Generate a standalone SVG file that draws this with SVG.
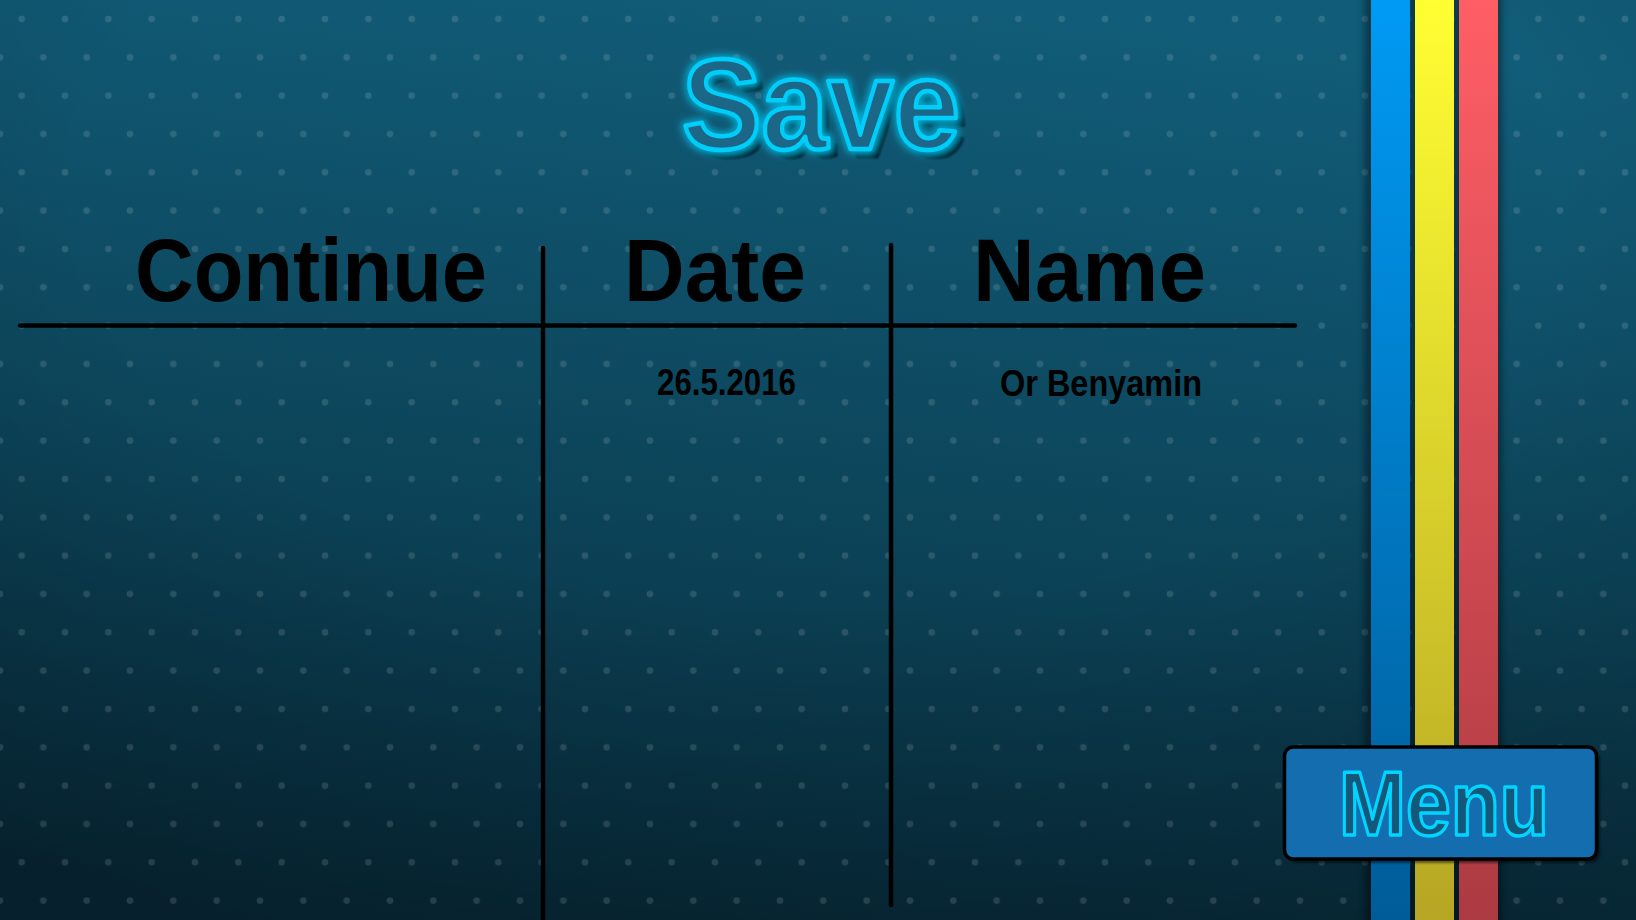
<svg xmlns="http://www.w3.org/2000/svg" width="1636" height="920" viewBox="0 0 1636 920">
  <defs>
    <linearGradient id="bg" x1="0.55" y1="0" x2="0.35" y2="1">
      <stop offset="0" stop-color="#115c78"/>
      <stop offset="0.55" stop-color="#0c4459"/>
      <stop offset="1" stop-color="#072a39"/>
    </linearGradient>
    <radialGradient id="edge" cx="0.5" cy="0.2" r="0.9">
      <stop offset="0.5" stop-color="#000" stop-opacity="0"/>
      <stop offset="1" stop-color="#000" stop-opacity="0.22"/>
    </radialGradient>
    <pattern id="dots" patternUnits="userSpaceOnUse" width="43.333" height="76.667">
      <circle cx="21.667" cy="19" r="3.3" fill="#ffffff" fill-opacity="0.13"/>
      <circle cx="0" cy="57.333" r="3.3" fill="#ffffff" fill-opacity="0.13"/>
      <circle cx="43.333" cy="57.333" r="3.3" fill="#ffffff" fill-opacity="0.13"/>
    </pattern>
    <linearGradient id="gBlue" x1="0" y1="0" x2="0" y2="1">
      <stop offset="0" stop-color="#009af4"/>
      <stop offset="1" stop-color="#005c98"/>
    </linearGradient>
    <linearGradient id="gYellow" x1="0" y1="0" x2="0" y2="1">
      <stop offset="0" stop-color="#ffff33"/>
      <stop offset="1" stop-color="#b6a624"/>
    </linearGradient>
    <linearGradient id="gRed" x1="0" y1="0" x2="0" y2="1">
      <stop offset="0" stop-color="#ff5e66"/>
      <stop offset="1" stop-color="#ac3a42"/>
    </linearGradient>
    <filter id="soft" x="-20%" y="-5%" width="140%" height="110%">
      <feGaussianBlur stdDeviation="3"/>
    </filter>
    <filter id="shadow" x="-10%" y="-20%" width="120%" height="140%">
      <feGaussianBlur stdDeviation="1.2"/>
    </filter>
    <filter id="titleFx" x="-10%" y="-25%" width="125%" height="155%">
      <feOffset in="SourceAlpha" dx="7" dy="7" result="off"/>
      <feGaussianBlur in="off" stdDeviation="1.2" result="offb"/>
      <feFlood flood-color="#03161e"/>
      <feComposite in2="offb" operator="in" result="shadowC"/>
      <feMorphology in="SourceAlpha" operator="dilate" radius="2" result="dil"/>
      <feGaussianBlur in="dil" stdDeviation="3.5" result="glowA"/>
      <feFlood flood-color="#00c8f5" flood-opacity="0.7"/>
      <feComposite in2="glowA" operator="in" result="glowC"/>
      <feMerge>
        <feMergeNode in="shadowC"/>
        <feMergeNode in="glowC"/>
        <feMergeNode in="SourceGraphic"/>
      </feMerge>
    </filter>
    <style>
      .hdr { font-family: "Liberation Sans", Arial, sans-serif; font-weight: bold; font-size: 89px; fill: #000; }
      .cell { font-family: "Liberation Sans", Arial, sans-serif; font-weight: bold; font-size: 37px; fill: #000; }
      .line { stroke: #000; stroke-width: 4.5; stroke-linecap: round; fill: none; }
      .title { font-family: "Liberation Sans", Arial, sans-serif; font-weight: bold; font-size: 128px; }
      .btn { font-family: "Liberation Sans", Arial, sans-serif; font-weight: bold; font-size: 91px; }
    </style>
  </defs>

  <g id="background">
    <rect x="0" y="0" width="1636" height="920" fill="url(#bg)"/>
    <rect x="0" y="0" width="1636" height="920" fill="url(#edge)"/>
    <rect x="0" y="0" width="1636" height="920" fill="url(#dots)"/>
  </g>

  <g id="stripes">
    <rect x="1364" y="-10" width="138" height="940" fill="#000" opacity="0.35" filter="url(#soft)"/>
    <rect x="1371" y="0" width="39" height="920" fill="url(#gBlue)"/>
    <rect x="1415" y="0" width="39" height="920" fill="url(#gYellow)"/>
    <rect x="1459" y="0" width="39" height="920" fill="url(#gRed)"/>
  </g>

  <g id="title">
    <text class="title" x="682" y="149" textLength="278" lengthAdjust="spacingAndGlyphs" fill="#1a6688" stroke="#00cdf8" stroke-width="4.5" stroke-linejoin="round" filter="url(#titleFx)">Save</text>
  </g>

  <g id="headers">
    <text id="hdr-continue" class="hdr" x="135" y="301" textLength="352" lengthAdjust="spacingAndGlyphs">Continue</text>
    <text id="hdr-date" class="hdr" x="624" y="301" textLength="182" lengthAdjust="spacingAndGlyphs">Date</text>
    <text id="hdr-name" class="hdr" x="973" y="301" textLength="233" lengthAdjust="spacingAndGlyphs">Name</text>
  </g>

  <g id="connectors">
    <line class="line" x1="20" y1="325.5" x2="1295" y2="325.5"/>
    <line class="line" x1="543" y1="248" x2="543" y2="922"/>
    <line class="line" x1="891" y1="245" x2="891" y2="905"/>
  </g>

  <g id="entry">
    <text id="entry-date" class="cell" x="657" y="395" textLength="139" lengthAdjust="spacingAndGlyphs">26.5.2016</text>
    <text id="entry-name" class="cell" x="1000" y="396" textLength="202" lengthAdjust="spacingAndGlyphs">Or Benyamin</text>
  </g>

  <g id="menu-button">
    <rect x="1287" y="750" width="313" height="113" rx="9" fill="#000" opacity="0.5" filter="url(#shadow)"/>
    <rect x="1284.5" y="747" width="312" height="112" rx="9" fill="#136daf" stroke="#000" stroke-width="3.5"/>
    <text class="btn" x="1339" y="835" textLength="210" lengthAdjust="spacingAndGlyphs" fill="#13577a" stroke="#00d4ff" stroke-width="3.5" stroke-linejoin="round">Menu</text>
  </g>
</svg>
